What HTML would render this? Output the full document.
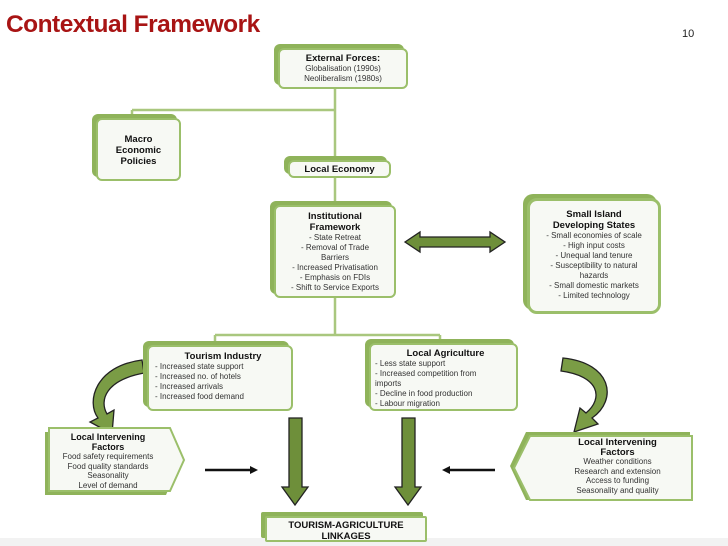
<!DOCTYPE html>
<html><head><meta charset="utf-8"><style>
body{margin:0;width:728px;height:546px;background:#fff;position:relative;overflow:hidden;font-family:"Liberation Sans",sans-serif}
.b{position:absolute;background:#f7f9f4;border:2px solid #9bbf6a;border-radius:6px;box-shadow:-4px -4px 0 #8fb35a;text-align:center;font-size:8px;color:#333;line-height:10px;box-sizing:border-box}
.b h{display:block;font-weight:bold;color:#111;font-size:9.5px;line-height:11px}
.l{text-align:left;padding-left:6px}
</style></head><body>
<div style="position:absolute;left:6px;top:11px;font-size:24px;font-weight:bold;color:#a81414;letter-spacing:-0.5px;transform:scaleX(1.02);transform-origin:left">Contextual Framework</div>
<div style="position:absolute;left:682px;top:28px;font-size:11px;color:#222">10</div>
<div style="position:absolute;left:0;top:538px;width:728px;height:8px;background:#f2f2f2"></div>
<svg width="728" height="546" style="position:absolute;left:0;top:0">
<g stroke="#a9c77e" stroke-width="2.5" fill="none">
<path d="M335 88V160M132 110H335M132 110V118M335 176V203M335 297V335M215 335H440M215 335V345M440 335V342"/>
</g>
<g fill="#6e8f3a" stroke="#222" stroke-width="1.3">
<polygon points="405,242 420,232 420,237 490,237 490,232 505,242 490,252 490,247 420,247 420,252"/>
<polygon points="289,418 302,418 302,487 308,487 295,505 282,487 289,487"/>
<polygon points="402,418 415,418 415,487 421,487 408,505 395,487 402,487"/>
</g>
<g fill="#7a9c45" stroke="#222" stroke-width="1.3">
<path d="M142,360 C95,366 86,402 98,418 L90,422 L112,434 L114,410 L107,414 C99,400 106,380 144,373 Z"/>
<path d="M563,358 C612,363 618,400 592,418 L598,424 L574,432 L580,408 L586,413 C604,398 599,376 561,371 Z"/>
</g>
<g stroke="#111" stroke-width="2.5"><path d="M205,470H252M449,470H495"/></g>
<polygon points="258,470 250,466 250,474" fill="#111"/>
<polygon points="442,470 450,466 450,474" fill="#111"/>
<polygon points="45,432 166,432 180,462 166,495 45,495" fill="#8fb35a"/>
<polygon points="49,428 170,428 184,460 170,491 49,491" fill="#f7f9f4" stroke="#9bbf6a" stroke-width="2"/>
<polygon points="526,432 690,432 690,500 526,500 510,466" fill="#8fb35a"/>
<polygon points="530,436 692,436 692,500 530,500 514,468" fill="#f7f9f4" stroke="#9bbf6a" stroke-width="2"/>
</svg>
<div class="b" style="left:278px;top:48px;width:130px;height:41px;padding-top:3px"><h>External Forces:</h>Globalisation (1990s)<br>Neoliberalism (1980s)</div>
<div class="b" style="left:96px;top:118px;width:85px;height:63px;padding-top:14px"><h>Macro<br>Economic<br>Policies</h></div>
<div class="b" style="left:288px;top:160px;width:103px;height:18px;padding-top:2px"><h>Local Economy</h></div>
<div class="b" style="left:274px;top:205px;width:122px;height:93px;padding-top:4px"><h>Institutional<br>Framework</h>- State Retreat<br>- Removal of Trade<br>Barriers<br>- Increased Privatisation<br>- Emphasis on FDIs<br>- Shift to Service Exports</div>
<div class="b" style="left:527px;top:198px;width:134px;height:116px;padding-top:8px;border-width:3px;border-radius:10px"><h>Small Island<br>Developing States</h>- Small economies of scale<br>- High input costs<br>- Unequal land tenure<br>- Susceptibility to natural<br>hazards<br>- Small domestic markets<br>- Limited technology</div>
<div class="b l" style="left:147px;top:345px;width:146px;height:66px;padding-top:4px"><h style="text-align:center">Tourism Industry</h>- Increased state support<br>- Increased no. of hotels<br>- Increased arrivals<br>- Increased food demand</div>
<div class="b l" style="left:369px;top:343px;width:149px;height:68px;padding-top:3px;padding-left:4px"><h style="text-align:center">Local Agriculture</h>- Less state support<br>- Increased competition from<br>imports<br>- Decline in food production<br>- Labour migration</div>
<div style="position:absolute;left:48px;top:433px;width:120px;text-align:center;font-size:8px;line-height:9.5px;color:#333"><b style="font-size:9px;color:#111">Local Intervening<br>Factors</b><br>Food safety requirements<br>Food quality standards<br>Seasonality<br>Level of demand</div>
<div style="position:absolute;left:545px;top:438px;width:145px;text-align:center;font-size:8px;line-height:9.5px;color:#333"><b style="font-size:9.5px;color:#111">Local Intervening<br>Factors</b><br>Weather conditions<br>Research and extension<br>Access to funding<br>Seasonality and quality</div>
<div class="b" style="left:265px;top:516px;width:162px;height:26px;padding-top:2px;border-radius:2px"><h style="font-size:9.5px">TOURISM-AGRICULTURE<br>LINKAGES</h></div>
</body></html>
